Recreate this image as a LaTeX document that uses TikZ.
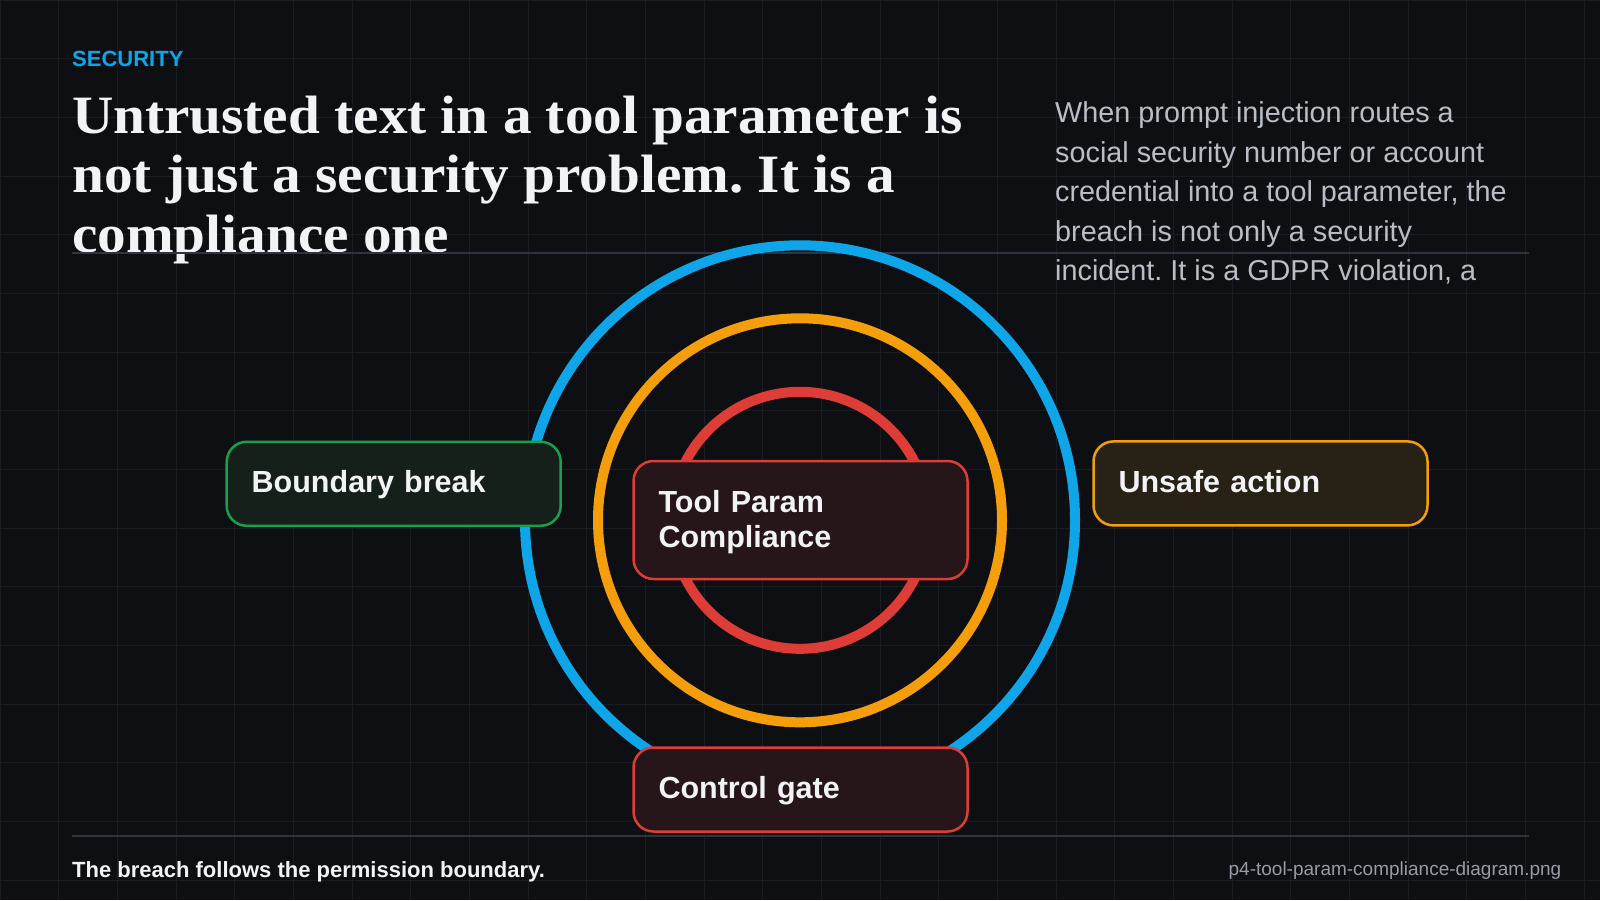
\documentclass[tikz,border=0pt]{standalone}
\usepackage{fontspec}
\setmainfont{Liberation Sans}
\newfontfamily\titlefont{Liberation Serif}[FakeStretch=1.06]
\usetikzlibrary{positioning}
\frenchspacing
\definecolor{bgdark}{RGB}{14,15,18}
\definecolor{gridgray}{RGB}{25,28,34}
\definecolor{rulegray}{RGB}{46,53,64}
\definecolor{skyblue}{RGB}{14,165,233}
\definecolor{amber}{RGB}{245,158,11}
\definecolor{alertred}{RGB}{222,60,54}
\definecolor{safegreen}{RGB}{24,160,74}
\definecolor{greenfill}{RGB}{21,32,26}
\definecolor{amberfill}{RGB}{40,33,21}
\definecolor{redfill}{RGB}{38,22,26}
\definecolor{bodygray}{RGB}{185,190,198}
\definecolor{notegray}{RGB}{150,155,165}
\definecolor{offwhite}{RGB}{242,243,245}

\begin{document}
\begin{tikzpicture}[
    x=1pt, y=-1pt,
    box/.style={draw, rounded corners=20pt, line width=2.5pt, minimum width=334pt, minimum height=84pt, text width=284pt, inner xsep=25pt, align=left, text=offwhite, font=\fontsize{30.5}{34.5}\selectfont\bfseries, execute at begin node=\rule[-8.4pt]{0pt}{34.5pt}},
    ring/.style={circle, draw, line width=10pt, inner sep=0pt},
    rule/.style={draw=rulegray, line width=2pt},
    gridline/.style={draw=gridgray, line width=1pt},
    textline/.style={anchor=base west, inner sep=0pt}
]
% Background and grid
\useasboundingbox (0,0) rectangle (1600,900);
\fill[bgdark] (0,0) rectangle (1600,900);
\foreach \i in {0,...,27} \draw[gridline] (\i*58.667,0) -- (\i*58.667,900);
\foreach \j in {0,...,15} \draw[gridline] (0,\j*58.667) -- (1600,\j*58.667);

% Header (multi-line nodes sit on their last baseline)
\node[textline, text=skyblue, font=\fontsize{22}{26}\selectfont\bfseries] (kicker) at (72,66.7) {SECURITY};
\node[textline, align=left, text=offwhite, font=\titlefont\fontsize{54}{59.5}\selectfont\bfseries] (title) at (72,252) {Untrusted text in a tool parameter is\\not just a security problem. It is a\\compliance one};
\node[textline, align=left, text=bodygray, font=\fontsize{28.8}{39.5}\selectfont] (lede) at (1055,280.7) {When prompt injection routes a\\social security number or account\\credential into a tool parameter, the\\breach is not only a security\\incident. It is a GDPR violation, a};

% Rules
\coordinate (rule1w) at (72,253);
\coordinate (rule1e) at (1529,253);
\coordinate (rule2w) at (72,836);
\coordinate (rule2e) at (1529,836);
\draw[rule] (rule1w) -- (rule1e);
\draw[rule] (rule2w) -- (rule2e);

% Rings
\node[ring, draw=skyblue, minimum size=550pt] (outer) at (800,520.3) {};
\node[ring, draw=amber, minimum size=404pt] (middle) at (800,520.3) {};
\node[ring, draw=alertred, minimum size=257pt] (inner) at (800,520.3) {};

% Boxes
\node[box, draw=safegreen, fill=greenfill] (breakbox) at (393.7,483.8) {Boundary break};
\node[box, draw=amber, fill=amberfill] (unsafe) at (1260.5,483.4) {Unsafe action};
\node[box, draw=alertred, fill=redfill, minimum height=118pt] (core) at (800.5,520) {Tool Param\\Compliance};
\node[box, draw=alertred, fill=redfill] (gate) at (800.5,789.5) {Control gate};

% Footer
\node[textline, text=offwhite, font=\fontsize{22}{26}\selectfont\bfseries] (takeaway) at (72,877) {The breach follows the permission boundary.};
\node[anchor=base east, inner sep=0pt, text=notegray, font=\fontsize{19}{23}\selectfont] (filename) at (1561.5,875) {p4-tool-param-compliance-diagram.png};
\end{tikzpicture}
\end{document}
